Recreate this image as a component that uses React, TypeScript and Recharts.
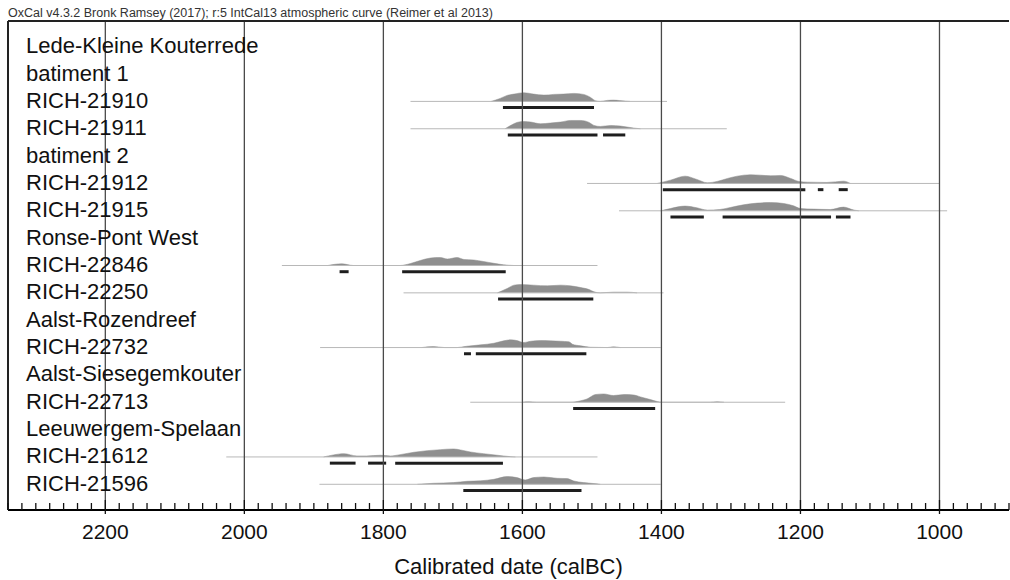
import React from 'react';
import { ComposedChart, XAxis, YAxis, Area, Line, ReferenceLine } from 'recharts';

// row labels, top to bottom
const ROW_NAMES = [
  'Lede-Kleine Kouterrede',
  'batiment 1',
  'RICH-21910',
  'RICH-21911',
  'batiment 2',
  'RICH-21912',
  'RICH-21915',
  'Ronse-Pont West',
  'RICH-22846',
  'RICH-22250',
  'Aalst-Rozendreef',
  'RICH-22732',
  'Aalst-Siesegemkouter',
  'RICH-22713',
  'Leeuwergem-Spelaan',
  'RICH-21612',
  'RICH-21596',
];

const MAJOR_TICKS = [2200, 2000, 1800, 1600, 1400, 1200, 1000];
const MINOR_TICKS = Array.from({ length: 73 }, (_, i) => 2340 - i * 20);

// [calBC, density height] / [from, to] ranges / 95.4% ranges
const RANGE_21910 = [1761, 1392];
const DENS_21910 = [[1645, 0], [1632, 3], [1622, 6], [1612, 7.3], [1598, 8.7], [1584, 7.3], [1569, 6.3], [1555, 7], [1541, 7.3], [1526, 8], [1512, 7], [1502, 4], [1495, 0.7], [1488, 0], [1478, 1], [1469, 1.3], [1452, 0.3], [1445, 0]];
const BARS_21910 = [[1628, 1497]];

const RANGE_21911 = [1761, 1306];
const DENS_21911 = [[1625, 0], [1615, 4], [1608, 6.3], [1598, 7.3], [1588, 6.7], [1574, 5], [1560, 5.7], [1545, 6.7], [1531, 8.3], [1516, 8.3], [1504, 6.3], [1497, 3.3], [1488, 2.3], [1473, 3.3], [1459, 2.7], [1440, 0.7], [1430, 0]];
const BARS_21911 = [[1621, 1492], [1484, 1452]];

const RANGE_21912 = [1507, 1000];
const DENS_21912 = [[1406, 0], [1387, 3.3], [1366, 7.3], [1349, 4], [1334, 0.7], [1320, 2], [1305, 5], [1291, 7.3], [1272, 8.7], [1258, 8.3], [1243, 7.7], [1229, 8], [1214, 5], [1202, 2], [1190, 1.3], [1162, 1], [1138, 2.3], [1128, 0]];
const BARS_21912 = [[1398, 1193], [1175, 1167], [1145, 1132]];

const RANGE_21915 = [1461, 989];
const DENS_21915 = [[1401, 0], [1387, 2.3], [1366, 4.7], [1349, 3], [1334, 0.7], [1316, 1.3], [1301, 3.3], [1282, 6], [1262, 7.7], [1243, 8.3], [1224, 7.3], [1210, 5], [1200, 2.3], [1181, 1.7], [1157, 1.3], [1138, 3.7], [1123, 0.7], [1116, 0]];
const BARS_21915 = [[1387, 1339], [1312, 1156], [1149, 1128]];

const RANGE_22846 = [1946, 1492];
const DENS_22846 = [[1880, 0], [1860, 1.7], [1843, 0], [1776, 0], [1761, 2], [1747, 5], [1732, 7.5], [1718, 8], [1708, 6.5], [1694, 8], [1684, 6], [1670, 5.5], [1656, 4], [1641, 2.2], [1627, 0.7], [1612, 0]];
const BARS_22846 = [[1863, 1850], [1773, 1624]];

const RANGE_22250 = [1771, 1397];
const DENS_22250 = [[1636, 0], [1622, 4.3], [1612, 7.7], [1603, 8.3], [1584, 7.7], [1564, 7], [1545, 7.7], [1531, 7], [1516, 5.3], [1504, 3.3], [1497, 1], [1488, 0], [1469, 0.7], [1449, 0.7], [1435, 0]];
const BARS_22250 = [[1635, 1498]];

const RANGE_22732 = [1891, 1401];
const DENS_22732 = [[1745, 0], [1728, 1], [1712, 0], [1694, 0], [1680, 1.3], [1660, 2.7], [1641, 4.3], [1627, 6.7], [1617, 7.7], [1608, 7], [1598, 5], [1588, 6.3], [1574, 7], [1560, 6.7], [1545, 6.3], [1533, 5.7], [1528, 3.3], [1516, 1.7], [1502, 0.3], [1478, 0], [1469, 0.7], [1459, 0]];
const BARS_22732 = [[1684, 1674], [1667, 1508]];

const RANGE_22713 = [1675, 1222];
const DENS_22713 = [[1600, 0], [1590, 0.4], [1580, 0], [1531, 0], [1516, 1.5], [1507, 3.3], [1495, 7.7], [1483, 8.3], [1469, 6.7], [1454, 7.7], [1440, 7.3], [1430, 5.3], [1416, 2.7], [1406, 0.7], [1399, 0], [1330, 0], [1320, 0.5], [1310, 0]];
const BARS_22713 = [[1527, 1409]];

const RANGE_21612 = [2026, 1492];
const DENS_21612 = [[1886, 0], [1872, 2], [1857, 3.3], [1838, 1], [1824, 1], [1804, 1.7], [1790, 1], [1776, 2.3], [1756, 4.7], [1737, 6.3], [1718, 7.3], [1699, 8], [1689, 7], [1675, 5], [1656, 3.3], [1636, 1.7], [1617, 0.3], [1610, 0]];
const BARS_21612 = [[1877, 1840], [1822, 1796], [1783, 1628]];

const RANGE_21596 = [1892, 1401];
const DENS_21596 = [[1751, 0], [1728, 1], [1699, 1.7], [1680, 3], [1660, 3.5], [1641, 5], [1622, 7.7], [1608, 6.7], [1596, 4.3], [1584, 6.7], [1569, 7.3], [1550, 6], [1536, 5.7], [1526, 3.3], [1512, 1.7], [1497, 0.7], [1488, 0]];
const BARS_21596 = [[1685, 1515]];

const SAMPLES = [
  { row: 2, range: RANGE_21910, density: DENS_21910, bars: BARS_21910 },
  { row: 3, range: RANGE_21911, density: DENS_21911, bars: BARS_21911 },
  { row: 5, range: RANGE_21912, density: DENS_21912, bars: BARS_21912 },
  { row: 6, range: RANGE_21915, density: DENS_21915, bars: BARS_21915 },
  { row: 8, range: RANGE_22846, density: DENS_22846, bars: BARS_22846 },
  { row: 9, range: RANGE_22250, density: DENS_22250, bars: BARS_22250 },
  { row: 11, range: RANGE_22732, density: DENS_22732, bars: BARS_22732 },
  { row: 13, range: RANGE_22713, density: DENS_22713, bars: BARS_22713 },
  { row: 15, range: RANGE_21612, density: DENS_21612, bars: BARS_21612 },
  { row: 16, range: RANGE_21596, density: DENS_21596, bars: BARS_21596 },
];

const FONT = "'Liberation Sans', Arial, sans-serif";
const CHART_W = 1010;
const CHART_H = 580;
const MARGIN = { top: 21, right: 1, left: 7, bottom: 0 };
const X_AXIS_H = 70;
const PLOT_H = CHART_H - MARGIN.top - MARGIN.bottom - X_AXIS_H;
const X_DOMAIN = [900, 2340];
const Y_DOMAIN = [-0.94, 16.94];
const ROW_PX = PLOT_H / (Y_DOMAIN[1] - Y_DOMAIN[0]); // pixels per row
const BAR_OFFSET = 6.2 / ROW_PX;
const LABEL_SIZE = 22;

// vertical centre of a row on the page, same linear map as the y axis
const rowCenter = (r: number) => MARGIN.top + ((r - Y_DOMAIN[0]) / (Y_DOMAIN[1] - Y_DOMAIN[0])) * PLOT_H;

// minor ticks every 20 years, longer ones with labels every 200
const AxisTick = ({ x, y, payload }: any) => {
  const v = payload.value;
  const major = MAJOR_TICKS.includes(v);
  return (
    <g>
      <line x1={x} x2={x} y1={y - (major ? 10 : 7)} y2={y + (major ? 4 : 0)} stroke="#111" strokeWidth={1.3} />
      {major && (
        <text x={x} y={y + 29} textAnchor="middle" fontSize={21} fontFamily={FONT} fill="#111">
          {v}
        </text>
      )}
    </g>
  );
};

export default function App() {
  return (
    <div style={{ position: 'absolute', left: 0, top: 0, width: CHART_W, height: CHART_H, background: '#fff', fontFamily: FONT }}>
      <div style={{ position: 'absolute', left: 8, top: 7, fontSize: 12.5, lineHeight: '12.5px', color: '#333', whiteSpace: 'nowrap' }}>
        OxCal v4.3.2 Bronk Ramsey (2017); r:5 IntCal13 atmospheric curve (Reimer et al 2013)
      </div>
      <ComposedChart width={CHART_W} height={CHART_H} margin={MARGIN}>
        <XAxis
          dataKey="yr"
          type="number"
          domain={X_DOMAIN}
          reversed
          allowDataOverflow
          ticks={MINOR_TICKS}
          interval={0}
          height={X_AXIS_H}
          tickSize={0}
          tickMargin={0}
          tickLine={false}
          axisLine={{ stroke: '#000', strokeWidth: 2 }}
          tick={<AxisTick />}
          label={{ value: 'Calibrated date (calBC)', position: 'insideBottom', offset: 6, style: { fontSize: 22, fontFamily: FONT, fill: '#111' } }}
        />
        <YAxis
          type="number"
          domain={Y_DOMAIN}
          reversed
          allowDataOverflow
          width={1}
          tick={false}
          tickLine={false}
          axisLine={{ stroke: '#222', strokeWidth: 2 }}
        />

        {SAMPLES.map((s) => (
          <Line
            key={'r' + s.row}
            data={s.range.map((yr) => ({ yr, v: s.row }))}
            dataKey="v"
            stroke="#b8b8b8"
            strokeWidth={1}
            dot={false}
            activeDot={false}
            isAnimationActive={false}
          />
        ))}

        {SAMPLES.map((s) => (
          <Area
            key={'d' + s.row}
            data={s.density.map(([yr, h]) => ({ yr, v: s.row - h / ROW_PX }))}
            dataKey="v"
            baseValue={s.row}
            type="monotone"
            stroke="#8a8a8a"
            strokeWidth={0.5}
            fill="#8f8f8f"
            fillOpacity={1}
            dot={false}
            activeDot={false}
            isAnimationActive={false}
          />
        ))}

        {SAMPLES.flatMap((s) =>
          s.bars.map(([a, b], j) => (
            <Line
              key={'b' + s.row + '-' + j}
              data={[{ yr: a, v: s.row + BAR_OFFSET }, { yr: b, v: s.row + BAR_OFFSET }]}
              dataKey="v"
              stroke="#1e1e1e"
              strokeWidth={3}
              dot={false}
              activeDot={false}
              isAnimationActive={false}
            />
          ))
        )}

        {/* 200-year gridlines, full plot height, drawn over the distributions */}
        {MAJOR_TICKS.map((t) => (
          <ReferenceLine key={'g' + t} x={t} stroke="#4a4a4a" strokeWidth={1.3} ifOverflow="visible" />
        ))}

        {/* top edge of the plot frame */}
        <ReferenceLine y={Y_DOMAIN[0]} stroke="#222" strokeWidth={2} />
      </ComposedChart>

      {/* row labels as HTML text over the plot, centred on the same row positions as the y axis */}
      {ROW_NAMES.map((name, r) => (
        <div
          key={'l' + r}
          style={{
            position: 'absolute',
            left: 26,
            top: rowCenter(r) - LABEL_SIZE / 2 - 0.5,
            fontSize: LABEL_SIZE,
            lineHeight: LABEL_SIZE + 'px',
            color: '#111',
            whiteSpace: 'nowrap',
            pointerEvents: 'none',
          }}
        >
          {name}
        </div>
      ))}
    </div>
  );
}
